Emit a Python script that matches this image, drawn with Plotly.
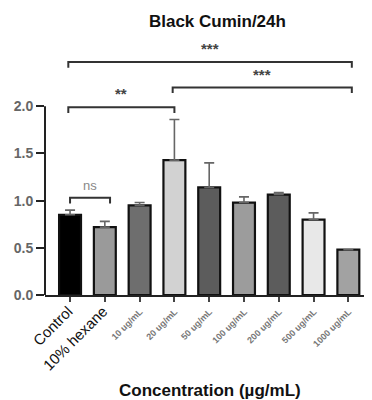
import plotly.graph_objects as go

categories = ["Control", "10% hexane", "10 ug/mL", "20 ug/mL", "50 ug/mL",
              "100 ug/mL", "200 ug/mL", "500 ug/mL", "1000 ug/mL"]
means = [0.85, 0.72, 0.95, 1.43, 1.14, 0.98, 1.065, 0.80, 0.48]
sds = [0.05, 0.06, 0.03, 0.43, 0.26, 0.06, 0.02, 0.07, 0.0]
fill_colors = ["#000000", "#9a9a9a", "#6e6e6e", "#d2d2d2", "#5c5c5c",
               "#9c9c9c", "#5c5c5c", "#e8e8e8", "#a2a2a2"]
y_ticks = [0.0, 0.5, 1.0, 1.5, 2.0]
y_tick_labels = ["0.0", "0.5", "1.0", "1.5", "2.0"]

# significance brackets: (start idx, end idx, y level, label)
brackets = [(0, 8, 2.47, "***"), (3, 8, 2.20, "***"), (0, 3, 1.99, "**"), (0, 1, 1.03, "ns")]

FONT = "Liberation Sans, Arial, sans-serif"

tick_text = []
for i, c in enumerate(categories):
    if i < 2:
        tick_text.append(f'<span style="font-size:15px;color:#111">{c}</span>')
    else:
        tick_text.append(f'<span style="font-size:9px;color:#777;font-weight:bold">{c}</span>')

fig = go.Figure()
fig.add_trace(go.Bar(
    x=list(range(len(categories))), y=means,
    width=0.63,
    marker=dict(color=fill_colors, line=dict(color="#111111", width=2.2)),
    error_y=dict(type="data", array=sds, arrayminus=[0] * len(sds), symmetric=False,
                 color="#666666", thickness=1.6, width=5),
    showlegend=False,
))

shapes = []
annotations = []
for a, b, y, lab in brackets:
    drop = 0.06
    xa = a - 0.05 if lab != "ns" else a
    xb = b + 0.1 if b == 8 else b
    if lab == "ns":
        xb = b + 0.15
    shapes.append(dict(type="path", xref="x", yref="y",
                       path=f"M {xa} {y - drop} L {xa} {y} L {xb} {y} L {xb} {y - drop}",
                       line=dict(color="#333333", width=2)))
    annotations.append(dict(x=(xa + xb) / 2, y=y + 0.03,
                            xref="x", yref="y", text=lab if lab == "ns" else f"<b>{lab}</b>",
                            showarrow=False, yanchor="bottom",
                            font=dict(family=FONT, size=13 if lab == "ns" else 15,
                                      color="#888888" if lab == "ns" else "#444444")))

# x-axis title as annotation
annotations.append(dict(x=0.517, y=-0.38, xref="paper", yref="paper",
                        text="<b>Concentration (µg/mL)</b>", showarrow=False,
                        xanchor="center", yanchor="middle",
                        font=dict(family=FONT, size=17, color="#111")))

# GraphPad-style y axis line from 0 to 2.0
shapes.append(dict(type="line", xref="paper", yref="y", x0=0, x1=0, y0=0, y1=2.0,
                   line=dict(color="#222222", width=2)))

fig.update_layout(
    width=372, height=400,
    margin=dict(l=37, r=16, t=37, b=113, autoexpand=False),
    paper_bgcolor="white", plot_bgcolor="white",
    font=dict(family=FONT),
    title=dict(text="<b>Black Cumin/24h</b>", x=0.563, xanchor="center", y=0.9675,
               yanchor="middle", font=dict(family=FONT, size=17, color="#111")),
    shapes=shapes, annotations=annotations,
)
fig.update_xaxes(
    range=[-0.72, 8.45], tickmode="array", tickvals=list(range(len(categories))),
    ticktext=tick_text, tickangle=-45, showline=True, linecolor="#222222", linewidth=2,
    ticks="outside", ticklen=5, tickwidth=1.5, tickcolor="#444",
    tickfont=dict(family=FONT, size=10),
    showgrid=False, zeroline=False, automargin=False,
)
fig.update_yaxes(
    range=[0, 2.65], tickmode="array", tickvals=y_ticks, ticktext=[f"<b>{t}</b>" for t in y_tick_labels],
    showline=False, ticks="outside", ticklen=8, tickwidth=2, tickcolor="#222",
    tickfont=dict(family=FONT, size=14, color="#666"),
    showgrid=False, zeroline=False, automargin=False,
)

fig.write_html("out.html")
